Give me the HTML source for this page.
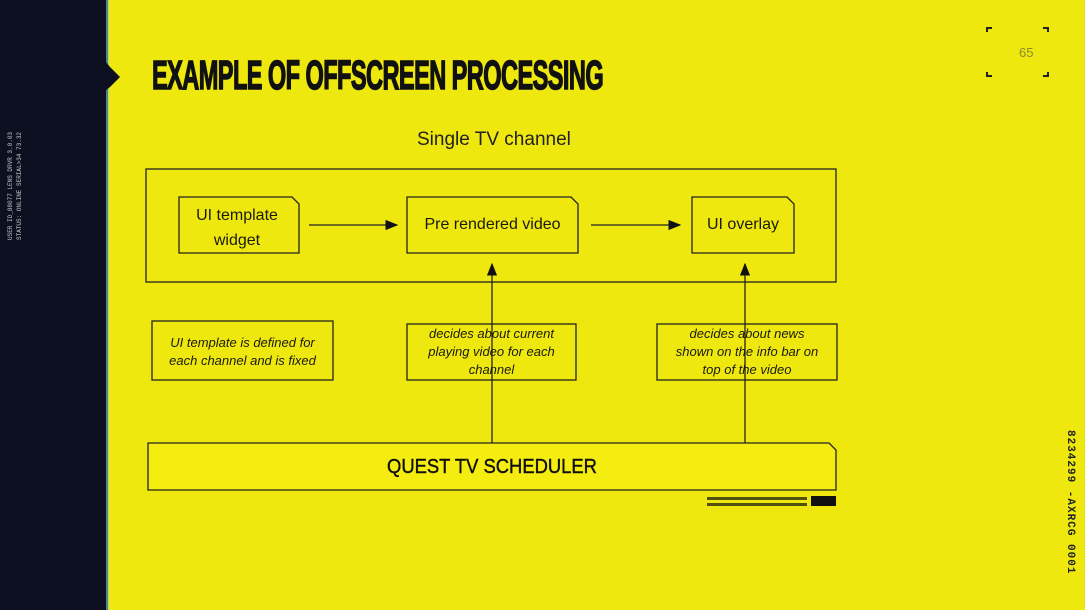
<!DOCTYPE html>
<html><head><style>
body{margin:0;width:1085px;height:610px;overflow:hidden;background:#efe80f;font-family:"Liberation Sans",sans-serif;position:relative}
.abs{position:absolute}
.t{color:#1a1a10}
</style></head><body>
<div class="abs" style="left:0;top:0;width:108px;height:610px;background:#0d1020"></div>
<div class="abs" style="left:106px;top:0;width:3px;height:610px;background:#7fd6c8;opacity:.6"></div>
<svg class="abs" style="left:100px;top:55px" width="24" height="40"><polygon points="0,0 10,12 20,22 10,32 0,40" fill="#0d1020"/></svg>
<div class="abs" style="left:6px;top:120px;width:30px;height:120px;color:#c8c8c8;font:6px 'Liberation Mono',monospace;writing-mode:vertical-rl;transform:rotate(180deg);line-height:9px">USER ID_88077 LENS DRVR 3.0.03<br>STATUS: ONLINE SERIAL>34 73.32</div>
<div class="abs t" style="left:152px;top:52px;font:bold 41px 'Liberation Sans',sans-serif;letter-spacing:-1px;transform:scaleX(0.575);transform-origin:left;color:#111;-webkit-text-stroke:1.5px #111;white-space:nowrap">EXAMPLE OF OFFSCREEN PROCESSING</div>
<div class="abs t" style="left:417px;top:129px;font-size:19px;color:#222">Single TV channel</div>
<div class="abs" style="left:1019px;top:45px;font-size:13px;color:#8a8a30">65</div>
<svg class="abs" style="left:0;top:0" width="1085" height="610">
<defs><marker id="a" markerWidth="10" markerHeight="8" refX="9" refY="4" orient="auto"><polygon points="0,0 10,4 0,8" fill="#111"/></marker></defs>
<g fill="none" stroke="#222" stroke-width="1.3">
<rect x="146" y="169" width="690" height="113"/>
<polygon points="179,197 292,197 299,204 299,253 179,253"/>
<polygon points="407,197 571,197 578,204 578,253 407,253"/>
<polygon points="692,197 787,197 794,204 794,253 692,253"/>
<rect x="152" y="321" width="181" height="59"/>
<rect x="407" y="324" width="169" height="56"/>
<rect x="657" y="324" width="180" height="56"/>
<polygon points="148,443 829,443 836,450 836,490 148,490" fill="#f5ec10"/>
<line x1="309" y1="225" x2="397" y2="225" marker-end="url(#a)"/>
<line x1="591" y1="225" x2="680" y2="225" marker-end="url(#a)"/>
<line x1="492" y1="443" x2="492" y2="264" marker-end="url(#a)"/>
<line x1="745" y1="443" x2="745" y2="264" marker-end="url(#a)"/>
</g>
<g fill="#111">
<rect x="707" y="497" width="100" height="3" opacity=".7"/><rect x="707" y="503" width="100" height="3" opacity=".7"/>
<rect x="811" y="496" width="25" height="10"/>
</g>
<g stroke="#222" stroke-width="2" fill="none">
<path d="M987 32V28H992"/><path d="M1043 28H1048V32"/><path d="M987 72V76H992"/><path d="M1043 76H1048V72"/>
</g>
</svg>
<div class="abs t" style="left:179px;top:203px;width:116px;text-align:center;font-size:16px;line-height:25px">UI template<br>widget</div>
<div class="abs t" style="left:407px;top:216px;width:171px;text-align:center;font-size:16px">Pre rendered video</div>
<div class="abs t" style="left:692px;top:216px;width:102px;text-align:center;font-size:16px">UI overlay</div>
<div class="abs t" style="left:152px;top:334px;width:181px;text-align:center;font-size:13px;font-style:italic;line-height:18px">UI template is defined for<br>each channel and is fixed</div>
<div class="abs t" style="left:407px;top:325px;width:169px;text-align:center;font-size:13px;font-style:italic;line-height:18px">decides about current<br>playing video for each<br>channel</div>
<div class="abs t" style="left:657px;top:325px;width:180px;text-align:center;font-size:13px;font-style:italic;line-height:18px">decides about news<br>shown on the info bar on<br>top of the video</div>
<div class="abs t" style="left:148px;top:456px;width:688px;text-align:center;font-size:20px;color:#111;transform:scaleX(0.92);-webkit-text-stroke:0.4px #111">QUEST TV SCHEDULER</div>
<div class="abs" style="left:1064px;top:430px;writing-mode:vertical-rl;font:bold 11px 'Liberation Mono',monospace;color:#222;letter-spacing:1px">8234299 -AXRCG 0001</div>
</body></html>
